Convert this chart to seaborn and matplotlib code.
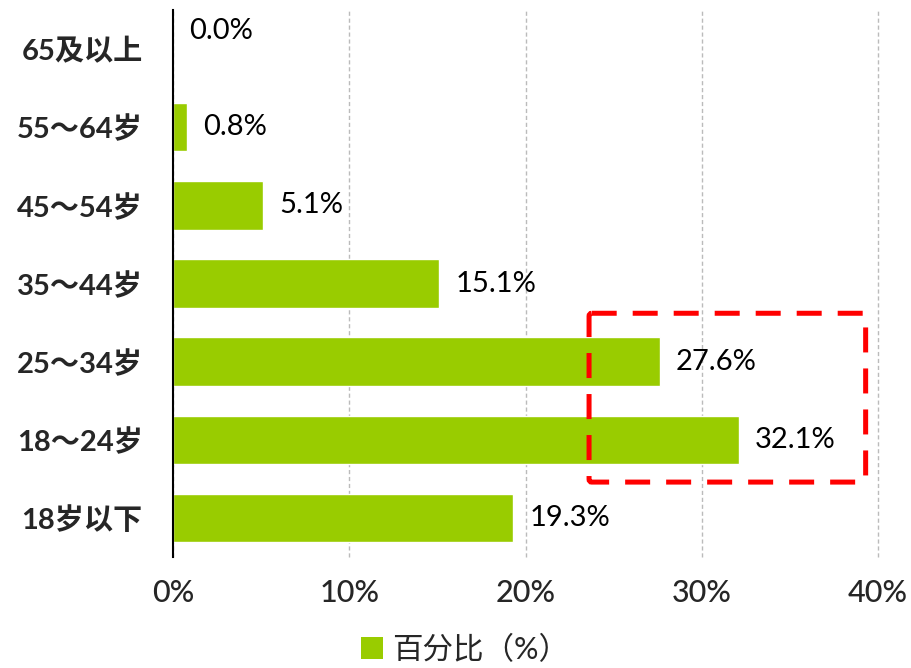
import matplotlib
matplotlib.use("Agg")
import matplotlib.pyplot as plt
import seaborn as sns
import pandas as pd
from matplotlib.patches import Patch, FancyBboxPatch

categories = ["65及以上", "55～64岁", "45～54岁", "35～44岁", "25～34岁", "18～24岁", "18岁以下"]
values = [0.0, 0.8, 5.1, 15.1, 27.6, 32.1, 19.3]
xticks = [0, 10, 20, 30, 40]
xtick_labels = ["0%", "10%", "20%", "30%", "40%"]
legend_label = "百分比（%）"

sns.set_theme(style="white")
plt.rcParams['font.family'] = ['Lato', 'Noto Sans CJK SC', 'DejaVu Sans']

df = pd.DataFrame({"cat": categories, "val": values})

fig = plt.figure(figsize=(9.12, 6.68), dpi=100)
ax = fig.add_axes([0.19, 0.166, 0.7727, 0.819])
sns.barplot(data=df, x="val", y="cat", orient="h", color="#99CC00",
            saturation=1, width=0.62, ax=ax, order=categories)

ax.set_xlim(0, 40)
ax.set_ylim(6.5, -0.5)
ax.set_xticks(xticks)
ax.set_xticklabels(xtick_labels, fontsize=22, fontweight='medium')
ax.set_xlabel("")
ax.set_ylabel("")
for lbl in ax.get_yticklabels():
    lbl.set_fontsize(21)
    lbl.set_fontweight('bold')
ax.tick_params(axis='both', length=0)
ax.tick_params(axis='x', pad=16)
ax.tick_params(axis='y', pad=22)

for s in ["top", "right", "bottom"]:
    ax.spines[s].set_visible(False)
ax.spines["left"].set_color("black")
ax.spines["left"].set_linewidth(1.5)

ax.xaxis.grid(True, linestyle=(0, (3, 2)), color="#BBBBBB", linewidth=1)
for gl in ax.get_xgridlines():
    gl.set_clip_on(False)
ax.yaxis.grid(False)
ax.set_axisbelow(True)

for i, v in enumerate(values):
    dy = -0.23 if v == 0 else 0
    ax.text(v + 0.9, i + dy, f"{v:.1f}%", va="center", ha="left",
            fontsize=21, color="black")

rect = FancyBboxPatch((23.6, 3.38), 15.7, 2.16,
                      boxstyle="round,pad=0,rounding_size=0.15",
                      fill=False, edgecolor="#FF0000", linewidth=3.6,
                      linestyle=(0, (5, 3.2)), zorder=5, mutation_aspect=0.25)
ax.add_patch(rect)

handle = Patch(facecolor="#99CC00", edgecolor="none")
fig.legend([handle], [legend_label], loc="lower center",
           bbox_to_anchor=(0.51, -0.035), frameon=False, fontsize=22,
           handlelength=0.7, handleheight=0.7, handletextpad=0.3)

fig.savefig("out.png", dpi=100)
